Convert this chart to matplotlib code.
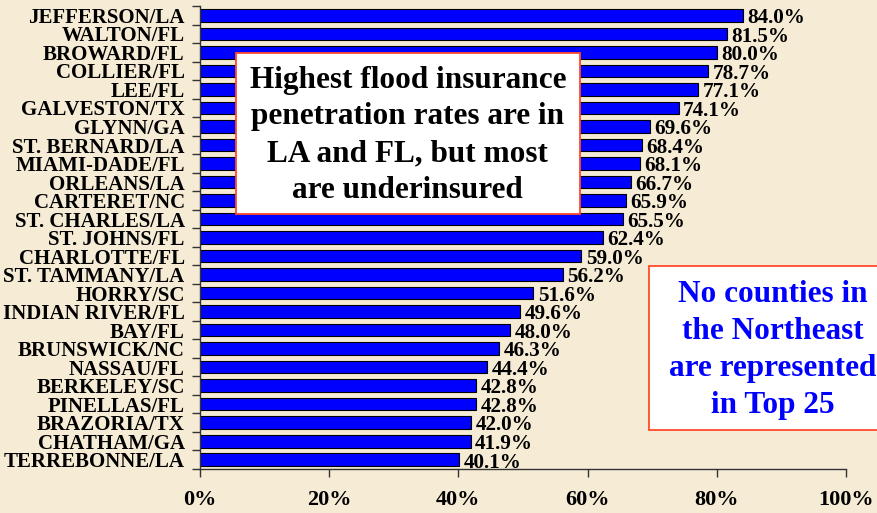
import matplotlib
matplotlib.use("Agg")
import matplotlib.pyplot as plt
from matplotlib.patches import Rectangle
from matplotlib.ticker import FixedLocator

counties = ["JEFFERSON/LA", "WALTON/FL", "BROWARD/FL", "COLLIER/FL", "LEE/FL",
            "GALVESTON/TX", "GLYNN/GA", "ST. BERNARD/LA", "MIAMI-DADE/FL",
            "ORLEANS/LA", "CARTERET/NC", "ST. CHARLES/LA", "ST. JOHNS/FL",
            "CHARLOTTE/FL", "ST. TAMMANY/LA", "HORRY/SC", "INDIAN RIVER/FL",
            "BAY/FL", "BRUNSWICK/NC", "NASSAU/FL", "BERKELEY/SC", "PINELLAS/FL",
            "BRAZORIA/TX", "CHATHAM/GA", "TERREBONNE/LA"]
rates = [84.0, 81.5, 80.0, 78.7, 77.1, 74.1, 69.6, 68.4, 68.1, 66.7, 65.9, 65.5,
         62.4, 59.0, 56.2, 51.6, 49.6, 48.0, 46.3, 44.4, 42.8, 42.8, 42.0, 41.9, 40.1]
xticks = [0, 20, 40, 60, 80, 100]
xtick_labels = ["0%", "20%", "40%", "60%", "80%", "100%"]
box1_text = "Highest flood insurance\npenetration rates are in\nLA and FL, but most\nare underinsured"
box2_text = "No counties in\nthe Northeast\nare represented\nin Top 25"

BG = "#F6ECD6"
SERIF = ["Liberation Serif", "DejaVu Serif"]
plt.rcParams['font.family'] = SERIF
plt.rcParams['font.weight'] = 'bold'

fig = plt.figure(figsize=(8.77, 5.13), dpi=100, facecolor=BG)
ax = fig.add_axes([0.228, 0.0858, 0.9647 - 0.228, 0.988 - 0.0858])
ax.set_facecolor(BG)

n = len(counties)
ypos = list(range(n))
ax.barh(ypos, rates, height=0.68, color="#0000FF", edgecolor="#000000", linewidth=0.8)
for y, v in zip(ypos, rates):
    ax.text(v + 0.7, y + 0.15, f"{v:.1f}%", va="center", ha="left",
            fontsize=15.2, fontweight="bold", color="black")

ax.set_ylim(n - 0.5, -0.5)
ax.set_xlim(0, 100)
ax.set_yticks(ypos)
ax.set_yticklabels(counties, fontsize=15, fontweight="bold")
ax.tick_params(axis='y', which='major', length=0, pad=11)
ax.yaxis.set_minor_locator(FixedLocator([i - 0.5 for i in range(n + 1)]))
ax.tick_params(axis='y', which='minor', length=6, width=1, color="#333333")
ax.set_xticks(xticks)
ax.set_xticklabels(xtick_labels, fontsize=16, fontweight="bold")
ax.tick_params(axis='x', length=6, width=1, color="#333333", pad=9)
for s in ["top", "right"]:
    ax.spines[s].set_visible(False)
for s in ["left", "bottom"]:
    ax.spines[s].set_color("#333333")
    ax.spines[s].set_linewidth(1)

# Box 1
fig.patches.append(Rectangle((0.269, 0.583), 0.392, 0.314, transform=fig.transFigure,
                             facecolor="white", edgecolor="#FF4A2A", linewidth=1.3, zorder=5))
fig.text(0.465, 0.736, box1_text, ha="center", va="center", fontsize=22.5,
         fontweight="bold", color="black", linespacing=1.36, zorder=6)
# Box 2
fig.patches.append(Rectangle((0.740, 0.162), 0.30, 0.3195, transform=fig.transFigure,
                             facecolor="white", edgecolor="#FF4A2A", linewidth=1.3, zorder=5))
fig.text(0.881, 0.318, box2_text, ha="center", va="center", fontsize=22.5,
         fontweight="bold", color="#0000FF", linespacing=1.36, zorder=6)

fig.savefig("out.png", dpi=100, facecolor=BG)
